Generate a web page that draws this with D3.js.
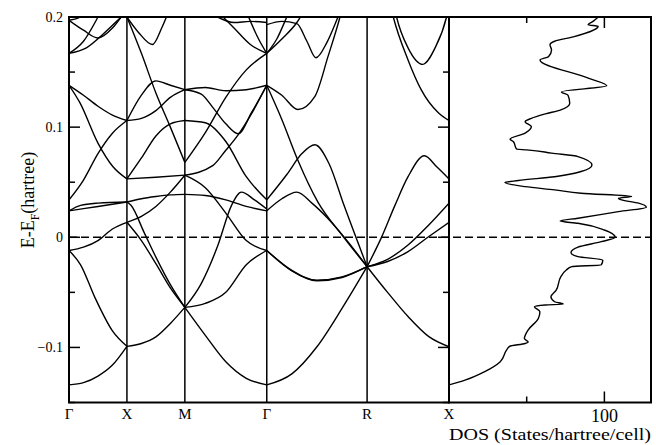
<!DOCTYPE html>
<html>
<head>
<meta charset="utf-8">
<script src="https://cdn.jsdelivr.net/npm/d3@7"></script>
<style>
body { margin: 0; background: #fff; }
text { font-family: "Liberation Serif", "Times New Roman", serif; fill: #000; }
</style>
</head>
<body>
<svg id="chart" width="656" height="445"></svg>
<script>
// high symmetry points (distance along path, 2pi/a)
var kLabels = ["Γ", "X", "M", "Γ", "R", "X"];
var kPoints = [0, 0.5, 1.0, 1.707, 2.573, 3.280];
var eMajor = [-0.1, 0, 0.1, 0.2];
var eMinor = [-0.15, -0.05, 0.05, 0.15];
var dosMajor = [100];
var dosMinor = [50];

// bands per segment: [fraction along segment, E-EF]
var bandsGX = [
  [[0,-0.134],[.25,-0.132],[.5,-0.126],[.75,-0.116],[1,-0.099]],
  [[0,-0.012],[.2,-0.025],[.45,-0.055],[.75,-0.085],[1,-0.099]],
  [[0,-0.012],[.25,-0.009],[.5,-0.003],[.75,0.0075],[1,0.0136]],
  [[0,0.024],[.5,0.028],[1,0.032]],
  [[0,0.024],[.2,0.029],[.5,0.031],[1,0.032]],
  [[0,0.034],[.25,0.052],[.5,0.076],[.75,0.0945],[1,0.106]],
  [[0,0.138],[.19,0.122],[.5,0.0855],[.76,0.064],[1,0.053]],
  [[0,0.138],[.25,0.129],[.5,0.119],[.75,0.111],[1,0.106]],
  [[0,0.167],[.3,0.172],[.6,0.185],[.9,0.2],[1,0.205]],
  [[0,0.167],[.25,0.178],[.5,0.2],[.6,0.21]],
  [[0,0.197],[.25,0.188],[.5,0.181],[.75,0.19],[.9,0.2]],
  [[0,0.197],[.2,0.2],[.3,0.205]]
];
var bandsXM = [
  [[0,-0.099],[.25,-0.0964],[.5,-0.0904],[.75,-0.0782],[1,-0.0636]],
  [[0,0.0136],[.25,-0.003],[.5,-0.024],[.75,-0.046],[1,-0.0636]],
  [[0,0.032],[.07,0.029],[.3,0.004],[.5,-0.018],[.75,-0.043],[1,-0.0636]],
  [[0,0.0136],[.25,0.019],[.5,0.028],[.75,0.041],[1,0.0564]],
  [[0,0.032],[.25,0.035],[.5,0.037],[.75,0.0385],[1,0.039]],
  [[0,0.053],[.5,0.0545],[1,0.0564]],
  [[0,0.053],[.25,0.072],[.5,0.092],[.75,0.103],[1,0.106]],
  [[0,0.106],[.25,0.129],[.5,0.142],[.75,0.138],[1,0.134]],
  [[0,0.106],[.25,0.108],[.5,0.115],[.75,0.127],[1,0.134]],
  [[0,0.2],[.25,0.167],[.5,0.131],[.75,0.1],[1,0.068]],
  [[0,0.2],[.2,0.186],[.44,0.175],[.6,0.19],[.72,0.205]]
];
var bandsMG = [
  [[0,-0.0636],[.25,-0.089],[.5,-0.113],[.75,-0.128],[1,-0.134]],
  [[0,-0.0636],[.25,-0.060],[.5,-0.050],[.75,-0.025],[1,-0.012]],
  [[0,-0.0636],[.2,-0.042],[.4,-0.008],[.57,0.029],[.69,0.041],[.85,0.034],[1,0.0257]],
  [[0,0.039],[.25,0.038],[.5,0.034],[.75,0.028],[1,0.024]],
  [[0,0.0564],[.25,0.045],[.5,0.022],[.75,-0.003],[1,-0.012]],
  [[0,0.0564],[.34,0.065],[.5,0.079],[.65,0.093],[.82,0.113],[1,0.138]],
  [[0,0.068],[.25,0.095],[.5,0.127],[.75,0.152],[1,0.167]],
  [[0,0.106],[.25,0.104],[.5,0.087],[.75,0.055],[1,0.034]],
  [[0,0.134],[.25,0.136],[.5,0.133],[.75,0.134],[1,0.138]],
  [[0,0.134],[.2,0.13],[.35,0.117],[.5,0.103],[.65,0.094],[.82,0.114],[1,0.138]],
  [[.4,0.205],[.6,0.19],[.8,0.175],[1,0.167]],
  [[.75,0.205],[.9,0.18],[1,0.167]],
  [[.4,0.2],[.6,0.195],[.8,0.196],[1,0.195]]
];
var bandsGR = [
  [[0,-0.134],[.25,-0.124],[.5,-0.0994],[.75,-0.0646],[1,-0.0267]],
  [[0,-0.012],[.25,-0.030],[.5,-0.039],[.75,-0.036],[1,-0.0267]],
  [[0,-0.012],[.25,-0.0305],[.5,-0.0395],[.75,-0.0365],[1,-0.0267]],
  [[0,0.024],[.15,0.035],[.3,0.041],[.45,0.031],[.6,0.018],[.8,-0.003],[1,-0.0267]],
  [[0,0.034],[.2,0.057],[.35,0.076],[.48,0.084],[.62,0.067],[.77,0.029],[1,-0.0267]],
  [[0,0.138],[.15,0.107],[.31,0.070],[.51,0.032],[.75,0.002],[1,-0.0267]],
  [[0,0.138],[.15,0.129],[.31,0.116],[.48,0.128],[.61,0.164],[.73,0.2],[.8,0.225]],
  [[0,0.167],[.1,0.18],[.2,0.2],[.3,0.22]],
  [[0,0.167],[.15,0.18],[.3,0.195],[.4,0.21]],
  [[0,0.193],[.15,0.196],[.3,0.194],[.4,0.178],[.49,0.163],[.6,0.177],[.71,0.2],[.8,0.22]]
];
var bandsRX = [
  [[0,-0.0267],[.25,-0.050],[.5,-0.072],[.75,-0.090],[1,-0.0994]],
  [[0,-0.0267],[.25,-0.022],[.5,-0.013],[.75,0.0005],[1,0.0136]],
  [[0,-0.0267],[.25,-0.020],[.5,-0.007],[.75,0.011],[1,0.031]],
  [[0,-0.0267],[.17,-0.001],[.34,0.029],[.5,0.055],[.7,0.074],[.85,0.064],[1,0.053]],
  [[.2,0.24],[.32,0.2],[.5,0.161],[.66,0.134],[.87,0.113],[1,0.106]],
  [[.28,0.23],[.36,0.2],[.5,0.172],[.68,0.157],[.83,0.172],[.97,0.2],[1,0.21]]
];

// density of states
var dosE = [-0.134,-0.1297,-0.122,-0.113,-0.1025,-0.099,-0.0964,-0.095,-0.092,-0.084,-0.0737,-0.0676,-0.063,-0.0615,-0.0606,-0.0585,-0.054,-0.048,-0.0358,-0.0297,-0.0267,-0.025,-0.0206,-0.0176,-0.014,-0.009,-0.004,0,0.0066,0.0127,0.0148,0.0173,0.0233,0.0273,0.031,0.034,0.0355,0.037,0.040,0.043,0.046,0.0497,0.0515,0.055,0.0597,0.0657,0.0733,0.0764,0.0794,0.080,0.087,0.089,0.0945,0.1005,0.105,0.108,0.112,0.1157,0.1218,0.129,0.132,0.1375,0.1445,0.161,0.164,0.170,0.1748,0.178,0.182,0.1915,0.193,0.196,0.2];
var dosN = [0,10.3,23,33,37,39,49,51,48.5,51,57.5,58.5,55,62,73.5,68,65.6,69,72,75.5,79,98,99,83,78.5,83,98,107,100,83,71.5,83,109,127,122,111,109,117.5,85,68,49,36,44.6,68,85,92,83,66,50,43.5,41.4,39.3,49,53,49,53,62,72,77.7,76.6,72.4,101.5,89.6,58.6,64,66,65,68,80,96,89.5,92.7,96];

var svg = d3.select("#chart");

var kx = d3.scaleLinear().domain([0, 3.280]).range([69, 449]);
var ey = d3.scaleLinear().domain([-0.15, 0.2]).range([402.5, 17]);
var dx = d3.scaleLinear().domain([0, 130]).range([449, 651]);

svg.append("clipPath").attr("id", "bandclip")
  .append("rect").attr("x", 69).attr("y", 17).attr("width", 380).attr("height", 385.5);
svg.append("clipPath").attr("id", "dosclip")
  .append("rect").attr("x", 449).attr("y", 17).attr("width", 202).attr("height", 385.5);

// vertical lines at high symmetry points
svg.append("g").selectAll("line")
  .data(kPoints.slice(1, -1))
  .enter().append("line")
  .attr("x1", d => kx(d)).attr("x2", d => kx(d))
  .attr("y1", ey(0.2)).attr("y2", ey(-0.15))
  .attr("stroke", "#000").attr("stroke-width", 1.5);

// bands
var segments = [bandsGX, bandsXM, bandsMG, bandsGR, bandsRX];
var bandG = svg.append("g").attr("clip-path", "url(#bandclip)");
segments.forEach(function(seg, s) {
  var k0 = kPoints[s], k1 = kPoints[s + 1];
  var line = d3.line()
    .x(d => kx(k0 + d[0] * (k1 - k0)))
    .y(d => ey(d[1]))
    .curve(d3.curveMonotoneX);
  bandG.selectAll(null)
    .data(seg)
    .enter().append("path")
    .attr("d", line)
    .attr("fill", "none")
    .attr("stroke", "#000")
    .attr("stroke-width", 1.4);
});

// DOS curve
var dosLine = d3.line()
  .x(d => dx(d[1]))
  .y(d => ey(d[0]))
  .curve(d3.curveMonotoneY);
svg.append("path")
  .datum(dosE.map((e, i) => [e, dosN[i]]))
  .attr("clip-path", "url(#dosclip)")
  .attr("d", dosLine)
  .attr("fill", "none")
  .attr("stroke", "#000")
  .attr("stroke-width", 1.4);

// fermi level
svg.append("line")
  .attr("x1", 69).attr("x2", 651)
  .attr("y1", ey(0)).attr("y2", ey(0))
  .attr("stroke", "#000").attr("stroke-width", 1.5)
  .attr("stroke-dasharray", "8,4");

// ticks on energy axis (left and right of band panel)
var tg = svg.append("g").attr("stroke", "#000").attr("stroke-width", 1.5);
eMajor.concat(eMinor).forEach(function(e) {
  var len = eMajor.indexOf(e) >= 0 ? 11 : 6;
  tg.append("line").attr("x1", 69).attr("x2", 69 + len).attr("y1", ey(e)).attr("y2", ey(e));
  tg.append("line").attr("x1", 449).attr("x2", 449 - len).attr("y1", ey(e)).attr("y2", ey(e));
});
dosMajor.concat(dosMinor).forEach(function(v) {
  var len = dosMajor.indexOf(v) >= 0 ? 11 : 6;
  tg.append("line").attr("x1", dx(v)).attr("x2", dx(v)).attr("y1", 17).attr("y2", 17 + len);
  tg.append("line").attr("x1", dx(v)).attr("x2", dx(v)).attr("y1", 402.5).attr("y2", 402.5 - len);
});

// frames
svg.append("rect").attr("x", 69).attr("y", 17).attr("width", 380).attr("height", 385.5)
  .attr("fill", "none").attr("stroke", "#000").attr("stroke-width", 2);
svg.append("rect").attr("x", 449).attr("y", 17).attr("width", 202).attr("height", 385.5)
  .attr("fill", "none").attr("stroke", "#000").attr("stroke-width", 2);

// tick labels
svg.append("g").selectAll("text")
  .data(eMajor)
  .enter().append("text")
  .attr("x", 63).attr("y", d => ey(d) + 5)
  .attr("text-anchor", "end")
  .attr("font-size", 14)
  .text(d => d === 0 ? "0" : d3.format("")(d));

svg.append("g").selectAll("text")
  .data(kLabels)
  .enter().append("text")
  .attr("x", (d, i) => kx(kPoints[i]))
  .attr("y", 419)
  .attr("text-anchor", "middle")
  .attr("font-size", 15)
  .text(d => d);

svg.append("g").selectAll("text")
  .data(dosMajor)
  .enter().append("text")
  .attr("x", d => dx(d)).attr("y", 422)
  .attr("text-anchor", "middle")
  .attr("font-size", 18)
  .text(d => d);

svg.append("text")
  .attr("x", 651).attr("y", 440)
  .attr("text-anchor", "end")
  .attr("font-size", 17)
  .attr("textLength", 202)
  .attr("lengthAdjust", "spacingAndGlyphs")
  .text("DOS (States/hartree/cell)");

var yl = svg.append("text")
  .attr("transform", "translate(34,200) rotate(-90)")
  .attr("text-anchor", "middle")
  .attr("font-size", 18);
yl.append("tspan").text("E-E");
yl.append("tspan").attr("font-size", 12).attr("dy", 5).text("F");
yl.append("tspan").attr("dy", -5).text("(hartree)");
</script>
</body>
</html>
